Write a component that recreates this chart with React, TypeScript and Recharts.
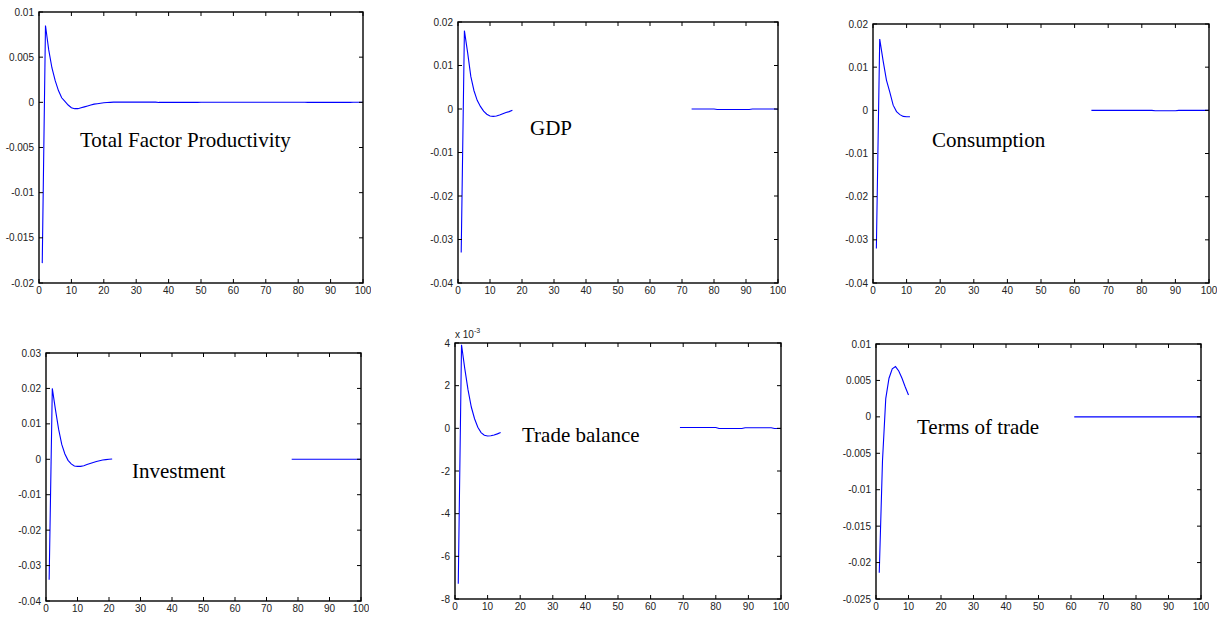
import { LineChart, Line, XAxis, YAxis } from "recharts";

// periods 1..100 of the impulse responses
const periods = Array.from({ length: 100 }, (_, i) => i + 1);
const xTicks = [0, 10, 20, 30, 40, 50, 60, 70, 80, 90, 100];

// Total factor productivity (no gap)
const tfpHead = [
  -0.0178, 0.0085, 0.0058, 0.0038, 0.0024, 0.0013, 0.0005, 0.0001, -0.0003, -0.0006,
  -0.0007, -0.0007, -0.0006, -0.0005, -0.0004, -0.0003, -0.0002, -0.00015, -0.0001, -0.00005,
  -0.00002, 0,
];
const tfpTail = [
  0.00002, 0.00002, 0.00002, 0.00002, 0.00002, 0.00002, 0.00002, 0.00002, 0.00002, 0.00002,
  0.00002, 0.00002, 0.00002, 0.00002, -0.00001, -0.00001, -0.00001, -0.00001, -0.00001, -0.00001,
  -0.00001, -0.00001, -0.00001, -0.00001, -0.00001, -0.00001, -0.00001, 0.00001, 0.00001, 0.00001,
  0.00001, 0.00001, 0.00001, 0.00001, 0.00001, 0.00001, 0.00001, 0.00001, 0.00001, 0.00001,
  0.00001, 0.00001, 0.00001, 0.00001, 0.00001, 0.00001, 0.00001, 0.00001, 0.00001, 0.00001,
  0.00001, 0.00001, 0.00001, 0.00001, 0.00001, 0.00001, 0.00001, 0.00001, 0.00001, 0.00001,
  -0.00001, -0.00001, -0.00001, -0.00001, -0.00001, -0.00001, -0.00001, -0.00001, -0.00001, -0.00001,
  -0.00001, -0.00001, -0.00001, -0.00001, 0.00001, 0.00001, 0.00001, 0.00001,
];

// GDP: t=1..17, then t=73..100
const gdpHead = [
  -0.033, 0.018, 0.013, 0.0075, 0.0042, 0.002, 0.0006, -0.0005, -0.0012, -0.0016,
  -0.0017, -0.0016, -0.0014, -0.0011, -0.0008, -0.0006, -0.0003,
];
const gdpTail = [
  0, 0, 0, 0, 0, 0, 0, 0, -0.0001, -0.0001,
  -0.0001, -0.0001, -0.0001, -0.0001, -0.0001, -0.0001, -0.0001, -0.0001, -0.0001, 0,
  0, 0, 0, 0, 0, 0, 0, -0.00005,
];

// Consumption: t=1..11, then t=65..100
const consHead = [
  -0.032, 0.0165, 0.0115, 0.007, 0.0042, 0.0012, -0.0003, -0.001, -0.0014, -0.0015, -0.0015,
];
const consTail = [
  0, 0, 0, 0, 0, 0, 0, 0, 0, 0,
  0, 0, 0, 0, 0, 0, 0, 0, 0, -0.0001,
  -0.0001, -0.0001, -0.0001, -0.0001, -0.0001, -0.0001, 0, 0, 0, 0,
  0, 0, 0, 0, 0, 0,
];

// Investment: t=1..21, then t=78..100
const invHead = [
  -0.034, 0.02, 0.014, 0.0085, 0.0042, 0.0015, -0.0003, -0.0013, -0.0019, -0.002,
  -0.002, -0.0018, -0.0015, -0.0012, -0.0009, -0.0006, -0.0004, -0.0002, -0.0001, 0,
  0.0001,
];
const invTail = [
  0, 0, 0, 0, 0, 0, 0, 0, 0, 0,
  0, 0, 0, 0, 0, 0, 0, 0, 0, 0,
  0, 0, 0,
];

// Trade balance in units of 10^-3: t=1..14, then t=69..100
const tbHead = [
  -7.28, 3.92, 2.8, 1.8, 1.0, 0.45, 0.05, -0.2, -0.32, -0.36,
  -0.35, -0.31, -0.26, -0.2,
];
const tbTail = [
  0.04, 0.04, 0.04, 0.04, 0.04, 0.04, 0.04, 0.04, 0.04, 0.04,
  0.04, 0.04, -0.01, -0.01, -0.01, -0.01, -0.01, -0.01, -0.01, -0.01,
  0.03, 0.03, 0.03, 0.03, 0.03, 0.03, 0.03, 0.03, 0.03, -0.01,
  -0.01, -0.01,
];

// Terms of trade: t=1..10, then t=61..100
const totHead = [
  -0.0214, -0.006, 0.0025, 0.0053, 0.0066, 0.0069, 0.0063, 0.0053, 0.0041, 0.003,
];
const totTail = [
  0, 0, 0, 0, 0, 0, 0, 0, 0, 0,
  0, 0, 0, 0, 0, 0, 0, 0, 0, 0,
  0, 0, 0, 0, 0, 0, 0, 0, 0, 0,
  0, 0, 0, 0, 0, 0, 0, 0, 0, 0,
];

const tfpTicks = [-0.02, -0.015, -0.01, -0.005, 0, 0.005, 0.01];
const gdpTicks = [-0.04, -0.03, -0.02, -0.01, 0, 0.01, 0.02];
const invTicks = [-0.04, -0.03, -0.02, -0.01, 0, 0.01, 0.02, 0.03];
const tbTicks = [-8, -6, -4, -2, 0, 2, 4];
const totTicks = [-0.025, -0.02, -0.015, -0.01, -0.005, 0, 0.005, 0.01];

function joinSeries(head: number[], tailStart: number, tail: number[]) {
  return periods.map((t) => {
    if (t <= head.length) return head[t - 1];
    if (t >= tailStart) return tail[t - tailStart];
    return null;
  });
}

const panels = [
  { title: "Total Factor Productivity", values: joinSeries(tfpHead, 23, tfpTail), ticks: tfpTicks,
    box: [39, 12, 363, 283], label: [80, 147] },
  { title: "GDP", values: joinSeries(gdpHead, 73, gdpTail), ticks: gdpTicks,
    box: [458, 22, 778, 283], label: [530, 135] },
  { title: "Consumption", values: joinSeries(consHead, 65, consTail), ticks: gdpTicks,
    box: [873, 24, 1209, 283], label: [932, 147] },
  { title: "Investment", values: joinSeries(invHead, 78, invTail), ticks: invTicks,
    box: [46, 353, 361, 601], label: [132, 478] },
  { title: "Trade balance", values: joinSeries(tbHead, 69, tbTail), ticks: tbTicks,
    box: [455, 343, 781, 599], label: [522, 442] },
  { title: "Terms of trade", values: joinSeries(totHead, 61, totTail), ticks: totTicks,
    box: [876, 344, 1201, 599], label: [917, 434] },
];

const FONT = "'Liberation Sans', Arial, sans-serif";
const INK = "#000";

function Panel({ p }: { p: (typeof panels)[number] }) {
  const data = periods.map((t, i) => ({ t, v: p.values[i] }));
  const yw = 44;
  const [x0, y0, x1, y1] = p.box;
  const pw = x1 - x0;
  const ph = y1 - y0;
  const domain = [p.ticks[0], p.ticks[p.ticks.length - 1]];

  // matlab-like ticks: label outside, short tick marks inside on both opposite sides
  const yTick = (props: any) => {
    const { x, y, payload } = props;
    const left = x + 5;
    return (
      <g>
        <line x1={left} x2={left + 4} y1={y} y2={y} stroke={INK} />
        <line x1={left + pw - 4} x2={left + pw} y1={y} y2={y} stroke={INK} />
        <text x={x} y={y} dy="0.355em" textAnchor="end" fontFamily={FONT} fontSize={10} fill="#222">
          {String(payload.value)}
        </text>
      </g>
    );
  };
  const xTick = (props: any) => {
    const { x, y, payload } = props;
    const bottom = y - 4;
    return (
      <g>
        {payload.value === 0 && (
          <rect x={x} y={bottom - ph} width={pw} height={ph} fill="none" stroke={INK} strokeWidth={1.4} />
        )}
        <line x1={x} x2={x} y1={bottom} y2={bottom - 4} stroke={INK} />
        <line x1={x} x2={x} y1={bottom - ph} y2={bottom - ph + 4} stroke={INK} />
        <text x={x} y={y} dy="0.71em" textAnchor="middle" fontFamily={FONT} fontSize={10} fill="#222">
          {String(payload.value)}
        </text>
      </g>
    );
  };

  return (
    <div style={{ position: "absolute", left: x0 - yw, top: y0 - 8 }}>
      <LineChart width={pw + yw + 8} height={ph + 8 + 22} data={data}
        margin={{ top: 8, right: 8, bottom: 0, left: 0 }}>
        <XAxis dataKey="t" type="number" domain={[0, 100]} ticks={xTicks} interval={0}
          tickSize={0} tickMargin={4} height={22} axisLine={false} tickLine={false} tick={xTick} />
        <YAxis type="number" domain={domain} ticks={p.ticks} interval={0} width={yw} allowDataOverflow
          tickSize={0} tickMargin={5} axisLine={false} tickLine={false} tick={yTick} />
        <Line type="linear" dataKey="v" stroke="#0000ff" strokeWidth={1.1} dot={false}
          isAnimationActive={false} connectNulls={false} />
      </LineChart>
    </div>
  );
}

export default function App() {
  return (
    <div style={{ position: "absolute", left: 0, top: 0, width: 1222, height: 617, background: "#fff" }}>
      {panels.map((p) => (
        <Panel key={p.title} p={p} />
      ))}
      <svg width={1222} height={617} style={{ position: "absolute", left: 0, top: 0, pointerEvents: "none" }}>
        {panels.map((p) => (
          <text key={p.title} x={p.label[0]} y={p.label[1]} fontFamily="'Liberation Serif', 'Times New Roman', serif"
            fontSize={21} fill="#000">
            {p.title}
          </text>
        ))}
        <text x={455} y={338} fontFamily={FONT} fontSize={10} fill="#222">
          x 10
          <tspan dy={-5} fontSize={7}>-3</tspan>
        </text>
      </svg>
    </div>
  );
}
